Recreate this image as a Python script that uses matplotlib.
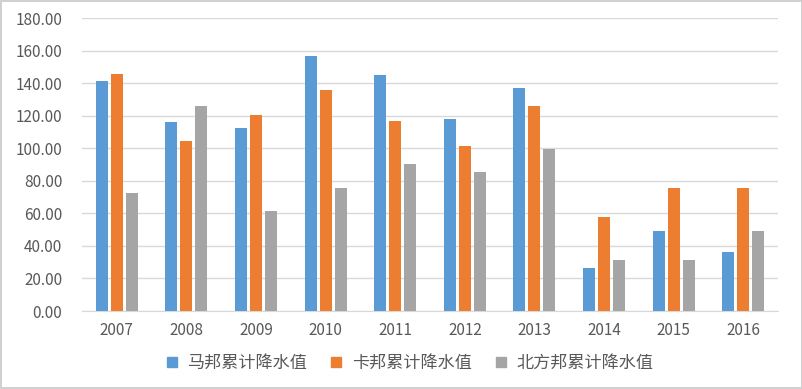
import numpy as np
import matplotlib.pyplot as plt
from matplotlib.lines import Line2D

plt.rcParams['font.family'] = ['Noto Sans CJK SC', 'DejaVu Sans']

# 数据
years = ['2007', '2008', '2009', '2010', '2011', '2012', '2013', '2014', '2015', '2016']
mabang = [141.3, 116.2, 112.4, 156.6, 145.0, 118.0, 137.2, 26.4, 49.2, 36.2]
kabang = [145.6, 104.4, 120.2, 135.7, 116.7, 101.4, 126.2, 57.7, 75.5, 75.5]
beifang = [72.5, 126.2, 61.4, 75.5, 90.3, 85.4, 99.5, 31.3, 31.3, 49.0]
names = ['马邦累计降水值', '卡邦累计降水值', '北方邦累计降水值']
colors = ['#5B9BD5', '#ED7D31', '#A5A5A5']

fig = plt.figure(figsize=(8.03, 3.89), dpi=100)
fig.patch.set_edgecolor('#D0D0D0')
fig.patch.set_linewidth(1.5)
ax = fig.add_axes([0.102, 0.2005, 0.867, 0.753])

x = np.arange(len(years))
w = 0.172
step = 0.215
for i, vals in enumerate([mabang, kabang, beifang]):
    ax.bar(x + (i - 1) * step, vals, width=w, color=colors[i], zorder=3)

ax.set_xlim(-0.5, len(years) - 0.5)
ax.set_ylim(0, 180)
ax.set_yticks(np.arange(0, 181, 20))
ax.set_yticklabels(['%.2f' % v for v in np.arange(0, 181, 20)])
ax.set_xticks(x)
ax.set_xticklabels(years)
ax.grid(axis='y', color='#D9D9D9', linewidth=1, zorder=0)
for s in ['top', 'right', 'left']:
    ax.spines[s].set_visible(False)
ax.spines['bottom'].set_color('#D9D9D9')
ax.tick_params(axis='both', length=0, labelsize=11, colors='#595959', pad=8)
ax.tick_params(axis='y', pad=14)

handles = [Line2D([], [], marker='s', linestyle='', markersize=6.5, color=c) for c in colors]
fig.legend(handles, names, loc='center', bbox_to_anchor=(0.503, 0.067), ncol=3,
           frameon=False, fontsize=12.3, handletextpad=-0.1, columnspacing=0.7,
           labelcolor='#595959')

fig.savefig('out.png', dpi=100)
